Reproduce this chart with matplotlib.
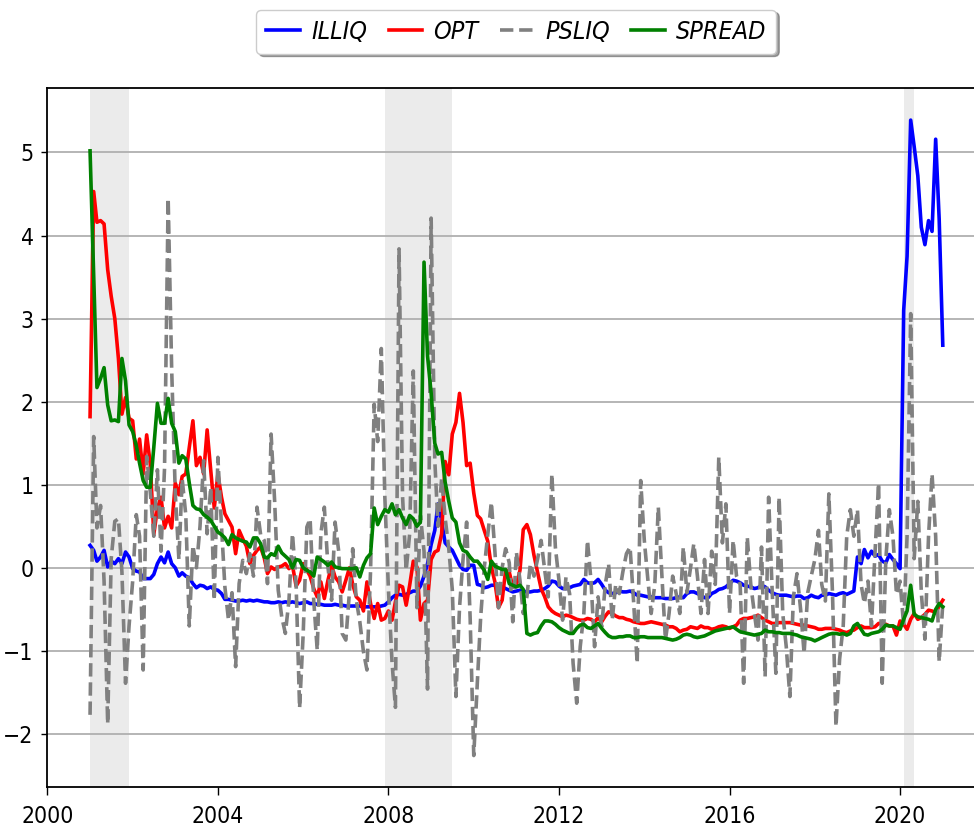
import matplotlib
matplotlib.use("Agg")
import matplotlib.pyplot as plt
import matplotlib.dates as mdates
import pandas as pd

plt.rcParams['font.family'] = ['DejaVu Sans']
plt.rcParams['font.stretch'] = 'condensed'

# monthly observations, 2001-01 .. 2021-01
dates = pd.date_range("2001-01-01", periods=241, freq="MS")

illiq = [
    0.27, 0.21, 0.08, 0.13, 0.21, 0.01, 0.08, 0.05, 0.11, 0.05, 0.19, 0.13,
    -0.01, -0.04, -0.05, -0.13, -0.13, -0.13, -0.08, 0.05, 0.13, 0.06, 0.19, 0.05,
    0.00, -0.10, -0.06, -0.10, -0.12, -0.19, -0.24, -0.21, -0.22, -0.25, -0.23, -0.26,
    -0.27, -0.31, -0.38, -0.38, -0.39, -0.40, -0.40, -0.39, -0.40, -0.39, -0.40, -0.39,
    -0.40, -0.41, -0.41, -0.42, -0.42, -0.41, -0.42, -0.41, -0.42, -0.41, -0.42, -0.43,
    -0.42, -0.41, -0.43, -0.43, -0.44, -0.44, -0.45, -0.45, -0.45, -0.44, -0.45, -0.45,
    -0.46, -0.46, -0.46, -0.46, -0.46, -0.47, -0.47, -0.47, -0.47, -0.47, -0.46, -0.45,
    -0.41, -0.36, -0.33, -0.32, -0.33, -0.32, -0.30, -0.28, -0.28, -0.22, -0.10, 0.05,
    0.28, 0.45, 0.77, 0.55, 0.30, 0.25, 0.21, 0.12, 0.03, -0.02, -0.03, 0.03,
    0.03, -0.20, -0.21, -0.24, -0.23, -0.21, -0.21, -0.22, -0.23, -0.25, -0.27, -0.29,
    -0.28, -0.27, -0.28, -0.29, -0.29, -0.28, -0.28, -0.27, -0.25, -0.22, -0.16, -0.17,
    -0.22, -0.25, -0.25, -0.24, -0.22, -0.21, -0.20, -0.14, -0.18, -0.19, -0.18, -0.14,
    -0.20, -0.27, -0.30, -0.31, -0.30, -0.28, -0.29, -0.29, -0.28, -0.30, -0.33, -0.33,
    -0.34, -0.35, -0.35, -0.36, -0.36, -0.36, -0.37, -0.37, -0.37, -0.36, -0.35, -0.36,
    -0.31, -0.29, -0.29, -0.31, -0.33, -0.36, -0.36, -0.31, -0.29, -0.26, -0.25, -0.23,
    -0.19, -0.15, -0.16, -0.18, -0.21, -0.22, -0.23, -0.25, -0.24, -0.21, -0.23, -0.27,
    -0.30, -0.32, -0.33, -0.33, -0.33, -0.34, -0.35, -0.34, -0.34, -0.37, -0.36, -0.33,
    -0.35, -0.36, -0.33, -0.33, -0.31, -0.32, -0.33, -0.31, -0.30, -0.32, -0.30, -0.28,
    0.13, 0.05, 0.22, 0.12, 0.20, 0.14, 0.16, 0.08, 0.06, 0.16, 0.10, 0.05,
    -0.01, 3.10, 3.75, 5.39, 5.07, 4.72, 4.10, 3.89, 4.18, 4.05, 5.16, 4.20,
    2.68,
]

opt = [
    1.82, 4.53, 4.16, 4.18, 4.14, 3.59, 3.27, 3.00, 2.52, 1.85, 2.05, 1.80,
    1.77, 1.31, 1.55, 1.13, 1.60, 1.25, 0.40, 0.72, 0.85, 0.48, 0.62, 0.48,
    1.02, 0.88, 1.10, 1.13, 1.45, 1.77, 1.23, 1.33, 1.13, 1.66, 1.17, 0.72,
    1.13, 0.85, 0.65, 0.57, 0.49, 0.17, 0.45, 0.35, 0.26, 0.05, 0.15, 0.21,
    0.25, 0.12, -0.07, 0.01, -0.02, 0.01, 0.02, 0.05, -0.01, 0.03, -0.22, -0.15,
    0.05, -0.03, -0.10, -0.25, -0.35, -0.17, -0.37, -0.15, 0.03, -0.11, -0.17, -0.29,
    -0.15, 0.00, -0.20, -0.35, -0.39, -0.52, -0.17, -0.43, -0.61, -0.43, -0.63, -0.61,
    -0.52, -0.63, -0.41, -0.21, -0.23, -0.45, -0.21, 0.08, 0.01, -0.63, -0.43, -0.39,
    0.10, 0.19, 0.21, 0.41, 1.28, 1.12, 1.61, 1.75, 2.10, 1.75, 1.23, 1.26,
    0.90, 0.63, 0.59, 0.45, 0.32, 0.01, -0.17, -0.48, -0.39, -0.03, -0.05, -0.23,
    -0.21, -0.03, 0.46, 0.52, 0.40, 0.15, -0.05, -0.25, -0.35, -0.47, -0.52, -0.55,
    -0.57, -0.59, -0.57, -0.58, -0.60, -0.62, -0.63, -0.63, -0.61, -0.62, -0.65, -0.60,
    -0.65, -0.58, -0.53, -0.55, -0.58, -0.60, -0.60, -0.62, -0.63, -0.65, -0.66, -0.67,
    -0.67, -0.66, -0.65, -0.66, -0.67, -0.68, -0.69, -0.71, -0.71, -0.73, -0.77, -0.75,
    -0.74, -0.71, -0.72, -0.73, -0.70, -0.72, -0.72, -0.74, -0.73, -0.71, -0.70, -0.71,
    -0.73, -0.71, -0.69, -0.63, -0.61, -0.61, -0.60, -0.59, -0.57, -0.60, -0.63, -0.65,
    -0.67, -0.67, -0.66, -0.66, -0.66, -0.66, -0.67, -0.68, -0.69, -0.69, -0.70, -0.71,
    -0.72, -0.74, -0.74, -0.73, -0.73, -0.73, -0.74, -0.75, -0.77, -0.78, -0.76, -0.75,
    -0.72, -0.70, -0.72, -0.72, -0.72, -0.71, -0.67, -0.67, -0.68, -0.70, -0.70, -0.81,
    -0.64, -0.68, -0.74, -0.62, -0.55, -0.62, -0.60, -0.56, -0.51, -0.52, -0.54, -0.46,
    -0.39,
]

psliq = [
    -1.77, 1.58, 0.48, 0.75, -0.16, -1.88, 0.11, 0.56, 0.59, -0.05, -1.39, -0.70,
    -0.16, 0.64, 0.38, -1.23, 1.34, 0.91, 0.38, 1.18, 0.20, 1.20, 4.45, 2.40,
    0.90, 0.10, 1.07, 0.64, -0.70, 0.27, 0.00, 0.50, 1.29, 0.41, 0.97, -0.39,
    1.33, 0.50, -0.23, -0.63, -0.30, -1.19, -0.19, 0.09, -0.07, 0.17, -0.10, 0.73,
    0.40, 0.33, -0.19, 1.61, 0.81, -0.27, -0.59, -0.79, -0.39, 0.41, -0.19, -1.69,
    -0.79, 0.49, 0.59, -0.39, -0.99, 0.41, 0.73, 0.01, -0.39, 0.55, 0.20, -0.79,
    -0.87, -0.30, 0.23, -0.39, -0.65, -1.01, -1.23, -0.03, 1.97, 1.52, 2.64, 0.86,
    -0.26, -1.14, -1.68, 3.84, 0.86, -0.03, 0.41, 2.37, -0.48, 0.63, 0.20, -1.46,
    4.21, 1.30, 0.50, 1.08, 0.60, 0.23, -0.26, -1.55, -0.48, 0.10, 0.55, -0.60,
    -2.26, -1.37, -0.60, 0.00, 0.40, 0.79, 0.20, -0.48, 0.00, 0.23, 0.06, -0.65,
    0.19, -0.15, -0.55, -0.35, 0.05, -0.10, 0.10, 0.33, -0.03, -0.35, 1.13, 0.25,
    -0.15, -0.63, -0.11, -0.31, -1.15, -1.63, -0.95, -0.55, 0.33, -0.15, -0.95, -0.35,
    -0.71, -0.20, 0.05, -0.63, -0.20, -0.31, -0.05, 0.17, 0.25, -0.40, -1.15, 1.05,
    0.33, -0.15, -0.55, -0.20, 0.73, -0.10, -0.87, -0.55, -0.10, -0.31, -0.55, 0.25,
    -0.30, 0.00, 0.29, -0.10, -0.55, 0.10, -0.55, 0.20, -0.20, 1.33, 0.30, 0.77,
    -0.55, 0.33, -0.10, -0.20, -1.39, 0.37, -0.20, -0.55, -0.87, 0.25, -1.31, 0.85,
    -0.30, -1.27, 0.85, -0.55, -0.95, -1.55, -0.35, -0.07, -0.50, -1.03, -0.30, -0.10,
    0.10, 0.45, -0.20, -0.40, 0.89, -0.30, -1.91, -1.10, -0.70, 0.38, 0.70, 0.38,
    0.70, -0.20, -0.43, -0.16, -0.70, 0.20, 1.02, -1.39, 0.10, 0.70, 0.38, -0.32,
    -0.16, -0.70, 0.38, 3.06, 0.11, 0.80, -0.30, -0.86, 0.38, 1.13, 0.38, -1.13,
    -0.43,
]

spread = [
    5.02, 3.50, 2.17, 2.28, 2.41, 1.96, 1.77, 1.78, 1.76, 2.52, 2.25, 1.72,
    1.64, 1.47, 1.26, 1.05, 0.97, 0.97, 1.45, 1.98, 1.74, 1.74, 2.04, 1.74,
    1.64, 1.26, 1.35, 1.31, 1.02, 0.75, 0.71, 0.70, 0.64, 0.61, 0.57, 0.50,
    0.43, 0.40, 0.36, 0.28, 0.40, 0.36, 0.34, 0.32, 0.31, 0.25, 0.36, 0.36,
    0.29, 0.13, 0.12, 0.17, 0.15, 0.26, 0.18, 0.14, 0.10, 0.00, 0.10, 0.09,
    0.00, -0.03, -0.05, -0.10, 0.13, 0.10, 0.07, 0.03, 0.07, 0.01, 0.00, -0.01,
    -0.01, -0.01, -0.01, 0.00, -0.11, 0.03, 0.12, 0.17, 0.72, 0.52, 0.62, 0.70,
    0.67, 0.77, 0.64, 0.70, 0.60, 0.52, 0.63, 0.59, 0.50, 0.55, 3.68, 2.55,
    2.10, 1.50, 1.37, 1.39, 1.03, 0.80, 0.60, 0.55, 0.30, 0.21, 0.19, 0.13,
    0.08, 0.08, 0.03, -0.03, -0.14, 0.08, 0.02, 0.00, -0.02, -0.02, -0.19, -0.21,
    -0.23, -0.21, -0.26, -0.79, -0.81, -0.79, -0.78, -0.70, -0.64, -0.64, -0.65, -0.68,
    -0.72, -0.75, -0.77, -0.79, -0.79, -0.73, -0.69, -0.68, -0.72, -0.73, -0.70, -0.67,
    -0.73, -0.78, -0.82, -0.84, -0.84, -0.83, -0.83, -0.82, -0.82, -0.84, -0.84, -0.83,
    -0.83, -0.84, -0.84, -0.84, -0.84, -0.84, -0.85, -0.86, -0.87, -0.86, -0.84, -0.81,
    -0.80, -0.81, -0.83, -0.84, -0.83, -0.82, -0.80, -0.78, -0.76, -0.75, -0.74, -0.73,
    -0.72, -0.71, -0.74, -0.77, -0.78, -0.79, -0.80, -0.81, -0.80, -0.79, -0.75, -0.77,
    -0.77, -0.78, -0.78, -0.79, -0.79, -0.79, -0.80, -0.81, -0.83, -0.84, -0.85, -0.86,
    -0.88, -0.86, -0.84, -0.82, -0.80, -0.79, -0.79, -0.80, -0.79, -0.81, -0.79, -0.70,
    -0.67, -0.74, -0.80, -0.81, -0.79, -0.78, -0.77, -0.74, -0.69, -0.70, -0.70, -0.72,
    -0.74, -0.62, -0.52, -0.21, -0.56, -0.59, -0.60, -0.61, -0.62, -0.64, -0.50, -0.43,
    -0.47,
]

# recession periods (shaded)
recessions = [("2001-01-01", "2001-12-01"),
              ("2007-12-01", "2009-07-01"),
              ("2020-02-01", "2020-05-01")]

fig = plt.figure(figsize=(9.74, 8.31), dpi=100)
ax = fig.add_axes([0.0486, 0.0526, 0.9631, 0.8411])

for start, end in recessions:
    ax.axvspan(pd.Timestamp(start), pd.Timestamp(end), color="#ebebeb", lw=0, zorder=0)

ax.plot(dates, illiq, color="blue", lw=2.6, label="ILLIQ")
ax.plot(dates, opt, color="red", lw=2.6, label="OPT")
ax.plot(dates, psliq, color="gray", lw=2.6, ls="--", label="PSLIQ")
ax.plot(dates, spread, color="green", lw=2.6, label="SPREAD")

ax.set_xlim(pd.Timestamp("2000-01-01"), pd.Timestamp("2022-01-01"))
ax.set_axisbelow(True)
ax.yaxis.grid(True, color="#b0b0b0", lw=1.3)
ax.xaxis.set_major_locator(mdates.YearLocator(4))
ax.xaxis.set_major_formatter(mdates.DateFormatter("%Y"))
ax.tick_params(labelsize=16.5, width=1.0)
ax.tick_params(axis="x", length=5.8, pad=6.8)
ax.tick_params(axis="y", length=4.1, pad=5.8)
for s in ax.spines.values():
    s.set_linewidth(1.3)

leg = ax.legend(loc="upper center", bbox_to_anchor=(0.5, 1.1125), ncol=4,
                borderaxespad=0, shadow=True, fancybox=True,
                prop={"style": "oblique", "size": 18, "stretch": "condensed"},
                handlelength=1.35, handletextpad=0.45, columnspacing=0.85)

fig.savefig("out.png", dpi=100)
